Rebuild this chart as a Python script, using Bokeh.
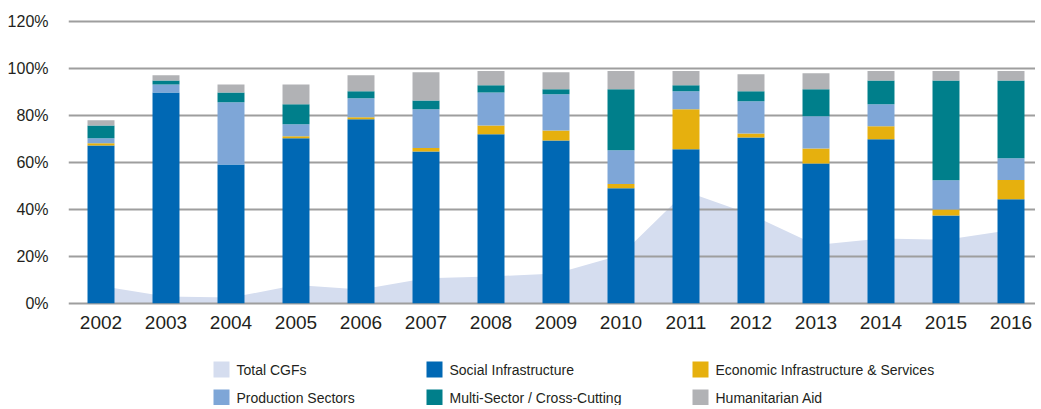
from bokeh.plotting import figure
from bokeh.layouts import column
from bokeh.models import Range1d, FixedTicker, PrintfTickFormatter, ColumnDataSource
from bokeh.core.properties import value
from bokeh.embed import file_html
from bokeh.resources import INLINE

years = ["2002", "2003", "2004", "2005", "2006", "2007", "2008", "2009",
         "2010", "2011", "2012", "2013", "2014", "2015", "2016"]
total_cgfs = [7.3, 2.8, 2.4, 7.7, 5.8, 10.6, 11.4, 12.7, 20.5, 47.6, 37.8, 24.8, 27.6, 27.0, 31.2]
social = [67.3, 89.9, 59.2, 70.3, 78.4, 64.7, 72.0, 69.4, 49.0, 65.6, 70.7, 59.6, 69.9, 37.4, 44.3]
economic = [0.9, 0.0, 0.0, 0.9, 0.9, 1.5, 3.8, 4.3, 1.8, 17.1, 1.7, 6.4, 5.6, 2.6, 8.2]
production = [2.1, 3.4, 26.5, 5.1, 8.1, 16.5, 14.1, 15.4, 14.4, 7.7, 13.7, 13.7, 9.3, 12.4, 9.3]
multisector = [5.5, 1.7, 4.2, 8.5, 3.0, 3.8, 3.0, 2.1, 26.0, 2.5, 4.3, 11.5, 10.2, 42.6, 33.2]
humanitarian = [2.2, 2.2, 3.4, 8.5, 6.8, 12.0, 6.1, 7.3, 7.8, 6.1, 7.2, 6.9, 4.0, 4.0, 4.0]
y_ticks = [0, 20, 40, 60, 80, 100, 120]

series_names = ["Social Infrastructure", "Economic Infrastructure & Services",
                "Production Sectors", "Multi-Sector / Cross-Cutting", "Humanitarian Aid"]
series_vals = [social, economic, production, multisector, humanitarian]
series_colors = ["#0068b4", "#e6b00e", "#7ea6d7", "#007f8b", "#b1b2b5"]
area_color = "#d5ddef"

TXT = "#231f20"
FONT = "Liberation Sans"

W = 1035
LEFT = 68
frame_w = W - LEFT

xs = list(range(len(years)))
data = {"x": xs, "cgf": total_cgfs}
keys = []
for i, v in enumerate(series_vals):
    k = "s%d" % i
    data[k] = v
    keys.append(k)
src = ColumnDataSource(data)

p = figure(width=W, height=340, output_backend="svg", toolbar_location=None,
           x_range=Range1d(-0.5, -0.5 + frame_w / 65.0), y_range=Range1d(-1, 121),
           min_border_left=LEFT, min_border_right=0, min_border_top=19, min_border_bottom=35)
p.outline_line_color = None
p.background_fill_color = "white"

# area (behind grid)
area = p.varea(x="x", y1=0, y2="cgf", source=src, fill_color=area_color)
area.level = "image"

p.vbar_stack(keys, x="x", width=0.415, source=src, color=series_colors, line_color=None)

p.xgrid.grid_line_color = None
p.ygrid.ticker = FixedTicker(ticks=y_ticks)
p.ygrid.grid_line_color = "#9e9e9e"
p.ygrid.grid_line_width = 2

p.yaxis.ticker = FixedTicker(ticks=y_ticks)
p.yaxis.formatter = PrintfTickFormatter(format="%d%%")
p.yaxis.axis_line_color = None
p.yaxis.major_tick_line_color = None
p.yaxis.minor_tick_line_color = None
p.yaxis.major_tick_out = 0
p.yaxis.major_tick_in = 0
p.yaxis.major_label_standoff = 20
p.yaxis.major_label_text_font = FONT
p.yaxis.major_label_text_font_size = "16px"
p.yaxis.major_label_text_color = TXT

p.xaxis.ticker = FixedTicker(ticks=xs)
p.xaxis.major_label_overrides = {i: y for i, y in enumerate(years)}
p.xaxis.axis_line_color = None
p.xaxis.major_tick_line_color = None
p.xaxis.minor_tick_line_color = None
p.xaxis.major_tick_out = 0
p.xaxis.major_tick_in = 0
p.xaxis.major_label_standoff = 10
p.xaxis.major_label_text_font = FONT
p.xaxis.major_label_text_font_size = "19px"
p.xaxis.major_label_text_color = TXT

# legend panel (x in page pixels; its frame is aligned with the chart's frame)
leg = figure(width=W, height=65, output_backend="svg", toolbar_location=None,
             x_range=Range1d(LEFT + 2, W + 2), y_range=Range1d(65, 0),
             min_border_left=LEFT, min_border_right=0, min_border_top=0, min_border_bottom=0)
leg.outline_line_color = None
leg.axis.visible = False
leg.grid.visible = False

leg_names = ["Total CGFs"] + series_names
leg_colors = [area_color] + series_colors
col_x = [215, 428, 694]
row_y = [29, 57]
lx, ly, tx = [], [], []
for i in range(len(leg_names)):
    r, c = divmod(i, 3)
    lx.append(col_x[c] + 8)
    ly.append(row_y[r])
    tx.append(col_x[c] + 23)
lsrc = ColumnDataSource(dict(x=lx, y=ly, tx=tx, name=leg_names, color=leg_colors))
leg.rect(x="x", y="y", width=16, height=16, source=lsrc, fill_color="color", line_color=None)
leg.text(x="tx", y="y", text="name", source=lsrc, text_font=value(FONT),
         text_font_size="14px", text_color=TXT, text_baseline="middle", text_align="left")

layout = column(p, leg, spacing=0)
open("out.html", "w").write(file_html(layout, INLINE))
